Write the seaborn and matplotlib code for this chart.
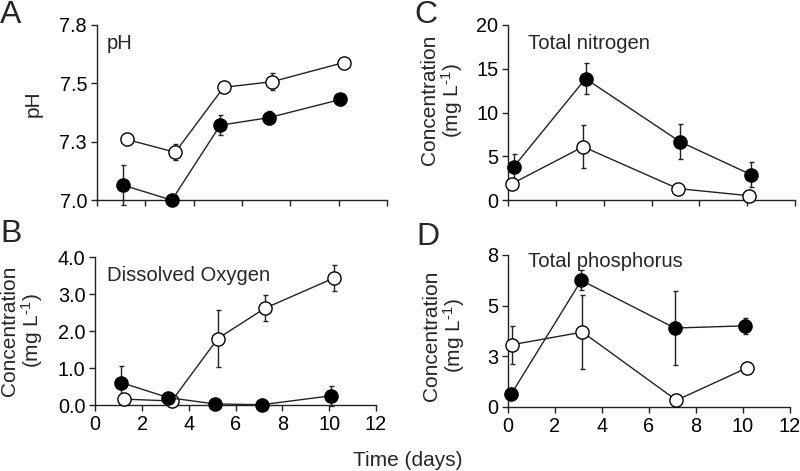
import numpy as np
import pandas as pd
import matplotlib
matplotlib.use("Agg")
import matplotlib.pyplot as plt
import seaborn as sns

# ---- data ----
days_label = "Time (days)"

ph_open_x = [1.24, 3.24, 5.24, 7.24, 10.2]
ph_open_y = [7.26, 7.205, 7.483, 7.507, 7.589]
ph_open_err = [0.0, 0.034, 0.0, 0.036, 0.0]
ph_filled_x = [1.1, 3.1, 5.1, 7.1, 10.07]
ph_filled_y = [7.064, 7.0, 7.321, 7.353, 7.431]
ph_filled_err = [0.086, 0.0, 0.043, 0.029, 0.024]

do_open_x = [1.25, 3.27, 5.24, 7.26, 10.22]
do_open_y = [0.16, 0.11, 1.80, 2.62, 3.44]
do_open_err = [0.0, 0.0, 0.78, 0.35, 0.36]
do_filled_x = [1.10, 3.13, 5.12, 7.12, 10.08]
do_filled_y = [0.61, 0.20, 0.03, 0.01, 0.25]
do_filled_err = [0.45, 0.0, 0.0, 0.0, 0.27]

tn_filled_x = [0.24, 3.24, 7.19, 10.14]
tn_filled_y = [3.81, 13.87, 6.67, 2.93]
tn_filled_err = [1.49, 1.8, 1.98, 1.45]
tn_open_x = [0.18, 3.14, 7.09, 10.09]
tn_open_y = [1.9, 6.1, 1.33, 0.5]
tn_open_err = [0.0, 2.48, 0.0, 0.0]

tp_filled_x = [0.14, 3.12, 7.1, 10.1]
tp_filled_y = [0.64, 6.24, 3.89, 4.0]
tp_filled_err = [0.0, 0.49, 1.84, 0.4]
tp_open_x = [0.18, 3.17, 7.17, 10.16]
tp_open_y = [3.07, 3.69, 0.33, 1.92]
tp_open_err = [0.94, 1.82, 0.0, 0.0]

x_ticks = [0, 2, 4, 6, 8, 10, 12]
ph_ticks = [7.0, 7.25, 7.5, 7.75]
ph_tick_labels = ["7.0", "7.3", "7.5", "7.8"]
do_ticks = [0.0, 1.0, 2.0, 3.0, 4.0]
do_tick_labels = ["0.0", "1.0", "2.0", "3.0", "4.0"]
tn_ticks = [0, 5, 10, 15, 20]
tn_tick_labels = ["0", "5", "10", "15", "20"]
tp_ticks = [0, 2.5, 5, 7.5]
tp_tick_labels = ["0", "3", "5", "8"]

# ---- style ----
sns.set_style("ticks")
plt.rcParams["font.family"] = ["Liberation Sans", "DejaVu Sans"]
plt.rcParams["mathtext.fontset"] = "custom"
plt.rcParams["mathtext.rm"] = "Liberation Sans"
plt.rcParams["mathtext.it"] = "Liberation Sans:italic"
plt.rcParams["mathtext.bf"] = "Liberation Sans:bold"
plt.rcParams["axes.linewidth"] = 1.0
plt.rcParams["axes.edgecolor"] = "#222222"
plt.rcParams["xtick.color"] = "#222222"
plt.rcParams["ytick.color"] = "#222222"
plt.rcParams["xtick.labelcolor"] = "black"
plt.rcParams["ytick.labelcolor"] = "black"

fig = plt.figure(figsize=(8.0, 4.71), dpi=100)

axA = fig.add_axes([0.121, 0.575, 0.363, 0.372])
axB = fig.add_axes([0.119, 0.140, 0.351, 0.314])
axC = fig.add_axes([0.635, 0.575, 0.359, 0.372])
axD = fig.add_axes([0.635, 0.136, 0.3525, 0.323])

conc_label = "Concentration\n(mg L$^{\\text{-1}}$)"
label_size = 15
title_size = 14.6


def draw_series(ax, x, y, err, filled):
    ax.errorbar(x, y, yerr=err, fmt="none", ecolor="#222222", elinewidth=1.0,
                capsize=1.8, capthick=1.0, zorder=2, clip_on=False)
    df = pd.DataFrame({"x": x, "y": y})
    sns.lineplot(data=df, x="x", y="y", ax=ax, sort=False, color="#222222",
                 linewidth=1.0, marker="o", markersize=9.5,
                 markerfacecolor="black" if filled else "white",
                 markeredgecolor="black", markeredgewidth=1.0,
                 zorder=3, clip_on=False, errorbar=None)


def style_axes(ax, yticks, ylabels, ylim, show_xlabels):
    sns.despine(ax=ax)
    ax.set_xlim(0, 12)
    ax.set_ylim(*ylim)
    ax.set_xticks(x_ticks)
    if show_xlabels:
        ax.set_xticklabels([str(t) for t in x_ticks])
    else:
        ax.set_xticklabels([])
    ax.set_yticks(yticks)
    ax.set_yticklabels(ylabels)
    ax.tick_params(axis="both", direction="out", length=4, width=1.0,
                   labelsize=14.3, pad=3)
    ax.set_xlabel("")


# Panel A
draw_series(axA, ph_open_x, ph_open_y, ph_open_err, False)
draw_series(axA, ph_filled_x, ph_filled_y, ph_filled_err, True)
style_axes(axA, ph_ticks, ph_tick_labels, (7.0, 7.75), False)
axA.set_ylabel("pH", fontsize=label_size)
axA.yaxis.set_label_coords(-0.186, 0.55)
axA.text(0.034, 0.897, "pH", transform=axA.transAxes, fontsize=title_size,
         ha="left", va="center")

# Panel B
draw_series(axB, do_open_x, do_open_y, do_open_err, False)
draw_series(axB, do_filled_x, do_filled_y, do_filled_err, True)
style_axes(axB, do_ticks, do_tick_labels, (0, 4.0), True)
axB.set_ylabel(conc_label, fontsize=label_size, linespacing=1.0)
axB.yaxis.set_label_coords(-0.178, 0.5)
axB.text(0.043, 0.878, "Dissolved Oxygen", transform=axB.transAxes,
         fontsize=title_size, ha="left", va="center")

# Panel C
draw_series(axC, tn_filled_x, tn_filled_y, tn_filled_err, True)
draw_series(axC, tn_open_x, tn_open_y, tn_open_err, False)
style_axes(axC, tn_ticks, tn_tick_labels, (0, 20), False)
axC.set_ylabel(conc_label, fontsize=label_size, linespacing=1.0)
axC.yaxis.set_label_coords(-0.15, 0.57)
axC.text(0.07, 0.897, "Total nitrogen", transform=axC.transAxes,
         fontsize=title_size, ha="left", va="center")

# Panel D
draw_series(axD, tp_filled_x, tp_filled_y, tp_filled_err, True)
draw_series(axD, tp_open_x, tp_open_y, tp_open_err, False)
style_axes(axD, tp_ticks, tp_tick_labels, (0, 7.5), True)
axD.set_ylabel(conc_label, fontsize=label_size, linespacing=1.0)
axD.yaxis.set_label_coords(-0.145, 0.47)
axD.text(0.071, 0.955, "Total phosphorus", transform=axD.transAxes,
         fontsize=title_size, ha="left", va="center")

# Panel letters
for letter, (px, py) in {"A": (0, 0), "B": (0, 219), "C": (414, 0), "D": (416, 222)}.items():
    fig.text(px / 800, 1 - py / 471, letter, fontsize=23, ha="left", va="top")

fig.text(0.51, 1 - 460 / 471, days_label, fontsize=15, ha="center", va="center")

fig.savefig("out.png", dpi=100)
